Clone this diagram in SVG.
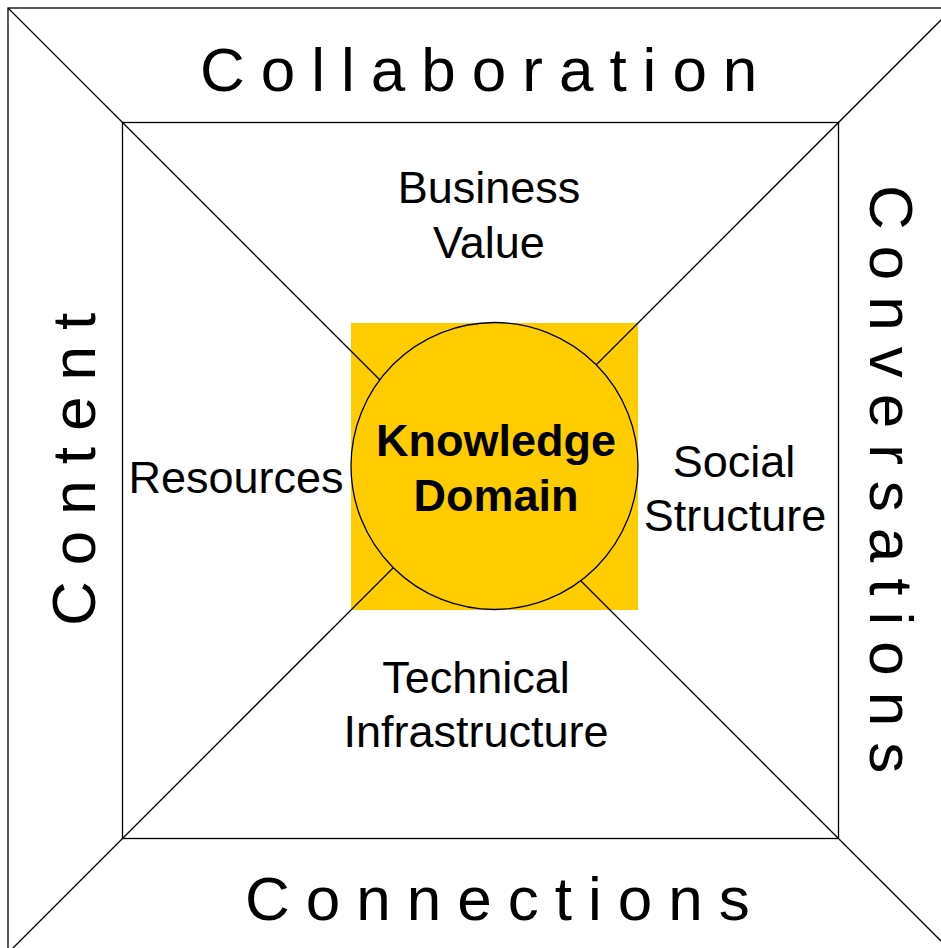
<svg xmlns="http://www.w3.org/2000/svg" width="941" height="948" viewBox="0 0 941 948">
<style>
.ln{stroke:#000;stroke-width:1.3;fill:none}
.big{font-family:"Liberation Sans",Arial,sans-serif;font-size:62px;letter-spacing:16px;fill:#000}
.lbl{font-family:"Liberation Sans",Arial,sans-serif;font-size:45px;fill:#000;text-anchor:middle}
.kd{font-family:"Liberation Sans",Arial,sans-serif;font-size:45px;font-weight:bold;fill:#000;text-anchor:middle}
</style>
<rect width="941" height="948" fill="#fff"/>
<g id="outer-frame"><rect class="ln" x="8" y="8" width="945" height="945"/></g>
<g id="inner-frame"><rect class="ln" x="122.5" y="122.5" width="716" height="716"/></g>
<g id="domain-backdrop"><rect x="351" y="323" width="287" height="287" fill="#FFCC00"/></g>
<g id="connectors">
<line class="ln" x1="8" y1="8" x2="480.5" y2="480.5"/>
<line class="ln" x1="953" y1="8" x2="480.5" y2="480.5"/>
<line class="ln" x1="8" y1="953" x2="480.5" y2="480.5"/>
<line class="ln" x1="953" y1="953" x2="480.5" y2="480.5"/>
</g>
<g id="knowledge-domain">
<circle cx="494.5" cy="466" r="143.5" fill="#FFCC00" stroke="#000" stroke-width="1.3"/>
<text class="kd" x="496" y="456">Knowledge</text>
<text class="kd" x="496" y="511">Domain</text>
</g>
<g id="collaboration"><text class="big" x="200" y="91">Collaboration</text></g>
<g id="connections"><text class="big" x="245" y="920">Connections</text></g>
<g id="content"><text class="big" transform="translate(95,626) rotate(-90)">Content</text></g>
<g id="conversations"><text class="big" transform="translate(870,185) rotate(90)">Conversations</text></g>
<g id="business-value">
<text class="lbl" x="489" y="203">Business</text>
<text class="lbl" x="489" y="258">Value</text>
</g>
<g id="resources"><text class="lbl" x="236" y="493">Resources</text></g>
<g id="social-structure">
<text class="lbl" x="734" y="477">Social</text>
<text class="lbl" x="735" y="531">Structure</text>
</g>
<g id="technical-infrastructure">
<text class="lbl" x="476" y="693">Technical</text>
<text class="lbl" x="476" y="747">Infrastructure</text>
</g>
</svg>
